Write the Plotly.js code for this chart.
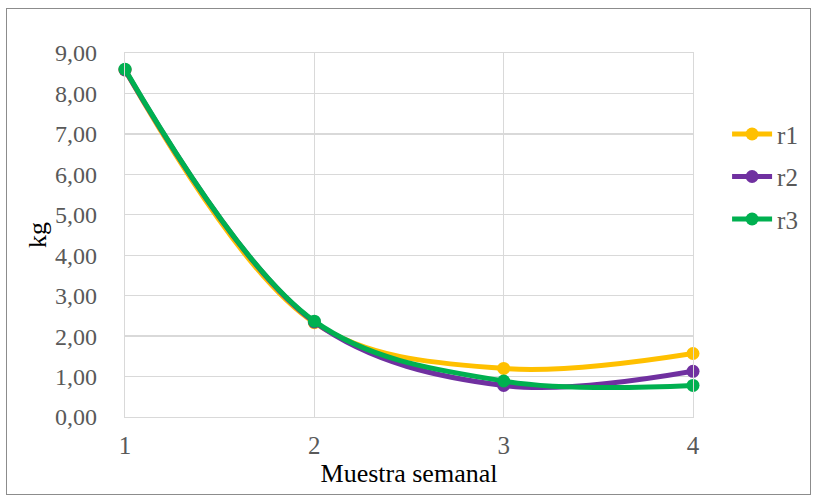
<!DOCTYPE html>
<html>
<head>
<meta charset="utf-8">
<script src="https://cdn.plot.ly/plotly-3.0.1.min.js"></script>
<style>
html,body{margin:0;padding:0;background:#fff;}
#frame{position:absolute;left:6px;top:8px;width:805px;height:487px;border:1px solid #8c8c8c;box-sizing:border-box;}
#chart{position:absolute;left:0;top:0;width:815px;height:499px;}
</style>
</head>
<body>
<div id="frame"></div>
<div id="chart"></div>
<script>
var weeks = [1, 2, 3, 4];
var r1 = [8.58, 2.33, 1.20, 1.57];
var r2 = [8.58, 2.35, 0.78, 1.13];
var r3 = [8.60, 2.37, 0.89, 0.78];
var names = ['r1', 'r2', 'r3'];
var colors = ['#FFC000', '#7030A0', '#00B050'];
var series = [r1, r2, r3];

var FONT = 'Liberation Serif';

var traces = series.map(function (s, i) {
  return {
    x: weeks, y: s, name: names[i], type: 'scatter', mode: 'lines+markers',
    line: {color: colors[i], width: 5, shape: 'spline', smoothing: 1},
    marker: {color: colors[i], size: 13},
    cliponaxis: false,
    legendgroup: names[i]
  };
});

var layout = {
  width: 815, height: 499,
  paper_bgcolor: 'rgba(0,0,0,0)', plot_bgcolor: 'rgba(0,0,0,0)',
  margin: {l: 125, r: 120, t: 53, b: 82},
  separators: ', ',
  font: {family: FONT, color: '#595959'},
  xaxis: {
    range: [1, 4], tickvals: weeks, ticktext: weeks.map(String),
    showgrid: true, gridcolor: '#d9d9d9', gridwidth: 1.3,
    showline: true, linecolor: '#d9d9d9', linewidth: 1.3, mirror: true,
    zeroline: false, ticks: '', ticklabelstandoff: 6,
    tickfont: {family: FONT, size: 25, color: '#595959'},
    title: {text: 'Muestra semanal', font: {family: FONT, size: 26, color: '#000'}, standoff: 0}
  },
  yaxis: {
    range: [0, 9], dtick: 1, tickformat: '.2f',
    showgrid: true, gridcolor: '#d9d9d9', gridwidth: 1.3,
    showline: true, linecolor: '#d9d9d9', linewidth: 1.3, mirror: true,
    zeroline: false, ticks: '', ticklabelstandoff: 22,
    tickfont: {family: FONT, size: 24, color: '#595959'},
    title: {text: 'kg', font: {family: FONT, size: 26, color: '#000'}, standoff: 0}
  },
  showlegend: true,
  legend: {
    x: 1.06, y: 0.84, xanchor: 'left', yanchor: 'top',
    traceorder: 'grouped', tracegroupgap: 7,
    font: {family: FONT, size: 25, color: '#595959'}, itemwidth: 40,
    bgcolor: 'rgba(0,0,0,0)'
  }
};

Plotly.newPlot('chart', traces, layout, {displayModeBar: false, staticPlot: true});
</script>
</body>
</html>
